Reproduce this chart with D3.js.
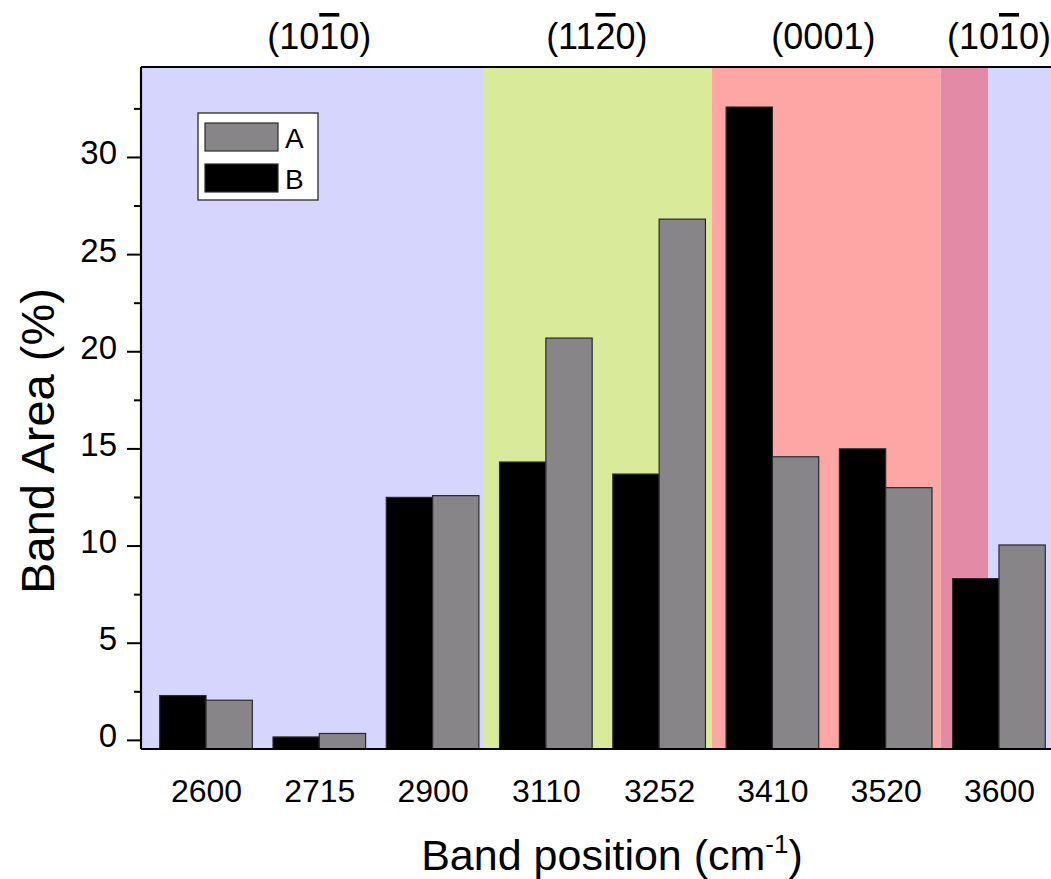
<!DOCTYPE html>
<html>
<head>
<meta charset="utf-8">
<script src="https://cdn.jsdelivr.net/npm/d3@7"></script>
<style>
  html, body { margin: 0; padding: 0; background: #ffffff; }
  svg { display: block; }
  text { font-family: "Liberation Sans", Arial, sans-serif; fill: #000; }
</style>
</head>
<body>
<svg id="chart" width="1051" height="879"></svg>
<script>
// ---- data ----
const categories = ["2600", "2715", "2900", "3110", "3252", "3410", "3520", "3600"];
const seriesNames = ["B", "A"];            // order inside each group (left to right)
const valuesA = [2.04, 0.33, 12.57, 20.68, 26.80, 14.57, 12.98, 10.03];
const valuesB = [2.28, 0.15, 12.48, 14.30, 13.68, 32.57, 14.98, 8.30];
const yTicks = [0, 5, 10, 15, 20, 25, 30];
const yMinorTicks = [2.5, 7.5, 12.5, 17.5, 22.5, 27.5, 32.5];
// shaded regions, in category-index units
const regionStart = [-0.574, 2.445, 4.464, 6.485, 6.905];
const regionEnd   = [2.445, 4.464, 6.485, 6.905, 7.574];
const regionKind  = ["m", "a", "c", "mc", "m"];
// plane labels above the plot: [before, barred digit, after], index position
const planeLabels = [["(10", "1", "0)"], ["(11", "2", "0)"], ["(000", "", "1)"], ["(10", "1", "0)"]];
const planeLabelPos = [1.0, 3.45, 5.45, 7.0];
const legendItems = ["A", "B"];

// ---- styles ----
const regionColor = { m: "#d6d5fd", a: "#d9eb9a", c: "#fea6a6", mc: "#e38aa7" };
const seriesColor = { A: "#878587", B: "#000000" };

const svg = d3.select("#chart");
const margin = { left: 141, right: 1064, top: 67, bottom: 749 };

const x = d3.scalePoint().domain(categories).range([margin.left, margin.right]).padding(0.574);
const xi = d3.scaleLinear().domain([0, categories.length - 1]).range([x(categories[0]), x(categories[categories.length - 1])]);
const y = d3.scaleLinear().domain([-0.47, 34.63]).range([margin.bottom, margin.top]);
const groupW = x.step() * 0.8175;
const x1 = d3.scaleBand().domain(seriesNames).range([-groupW / 2, groupW / 2]).padding(0);

// background regions
svg.append("g").selectAll("rect").data(regionStart).join("rect")
  .attr("x", (d) => xi(d))
  .attr("y", margin.top)
  .attr("width", (d, i) => xi(regionEnd[i]) - xi(d))
  .attr("height", margin.bottom - margin.top)
  .attr("fill", (d, i) => regionColor[regionKind[i]]);

// bars
const rows = categories.map((c, i) => ({ cat: c, A: valuesA[i], B: valuesB[i] }));
const groups = svg.append("g").selectAll("g").data(rows).join("g")
  .attr("transform", (d) => `translate(${x(d.cat)},0)`);
groups.selectAll("rect").data((d) => seriesNames.map((s) => ({ s, v: d[s] }))).join("rect")
  .attr("x", (d) => x1(d.s))
  .attr("y", (d) => y(d.v))
  .attr("width", x1.bandwidth())
  .attr("height", (d) => y(y.domain()[0]) - y(d.v))
  .attr("fill", (d) => seriesColor[d.s])
  .attr("stroke", "#2a2a2a")
  .attr("stroke-width", 1.2);

// frame
svg.append("line").attr("x1", margin.left).attr("x2", 1051).attr("y1", margin.top).attr("y2", margin.top)
  .attr("stroke", "#000").attr("stroke-width", 2.2);
svg.append("line").attr("x1", margin.left).attr("x2", 1051).attr("y1", margin.bottom).attr("y2", margin.bottom)
  .attr("stroke", "#000").attr("stroke-width", 2.2);

// y axis
const yAxis = d3.axisLeft(y).tickValues(yTicks).tickSize(14).tickPadding(10).tickFormat(d3.format("d"));
const gy = svg.append("g").attr("transform", `translate(${margin.left},0)`).call(yAxis);
gy.select(".domain").attr("stroke-width", 2.2).attr("d", `M0,${margin.top}V${margin.bottom}`);
gy.selectAll(".tick line").attr("stroke-width", 2);
gy.selectAll(".tick text").attr("font-size", 33).attr("font-family", "Liberation Sans, Arial, sans-serif")
  .attr("dy", null).attr("y", 7).attr("x", -24);
const yMinor = d3.axisLeft(y).tickValues(yMinorTicks).tickSize(7).tickFormat("");
const gym = svg.append("g").attr("transform", `translate(${margin.left},0)`).call(yMinor);
gym.select(".domain").remove();
gym.selectAll(".tick line").attr("stroke-width", 2);

// x axis labels (no ticks)
const xAxis = d3.axisBottom(x).tickSize(0).tickPadding(0);
const gx = svg.append("g").attr("transform", `translate(0,${margin.bottom})`).call(xAxis);
gx.select(".domain").remove();
gx.selectAll(".tick text").attr("font-size", 32).attr("font-family", "Liberation Sans, Arial, sans-serif")
  .attr("dy", null).attr("y", 53);

// axis titles
svg.append("text").attr("transform", "translate(54,441) rotate(-90)")
  .attr("text-anchor", "middle").attr("font-size", 47)
  .text("Band Area (%)");
const xt = svg.append("text").attr("x", 612).attr("y", 870).attr("text-anchor", "middle").attr("font-size", 43);
xt.append("tspan").text("Band position (cm");
xt.append("tspan").attr("font-size", 26).attr("dy", -17).text("-1");
xt.append("tspan").attr("dy", 17).text(")");

// plane labels
const pl = svg.append("g").selectAll("text").data(planeLabels).join("text")
  .attr("x", (d, i) => xi(planeLabelPos[i]))
  .attr("y", 49)
  .attr("text-anchor", "middle")
  .attr("font-size", 36);
pl.append("tspan").text((d) => d[0]);
pl.append("tspan").style("text-decoration", "overline").text((d) => d[1]);
pl.append("tspan").text((d) => d[2]);

// legend
const lg = svg.append("g");
lg.append("rect").attr("x", 198).attr("y", 113).attr("width", 120).attr("height", 87)
  .attr("fill", "#fff").attr("stroke", "#2a2a2a").attr("stroke-width", 1.3);
const li = lg.selectAll("g").data(legendItems).join("g")
  .attr("transform", (d, i) => `translate(205,${123 + i * 41})`);
li.append("rect").attr("width", 73).attr("height", 28)
  .attr("fill", (d) => seriesColor[d]).attr("stroke", "#2a2a2a").attr("stroke-width", 1.2);
li.append("text").attr("x", 80).attr("y", 25).attr("font-size", 28).text((d) => d);
</script>
</body>
</html>
